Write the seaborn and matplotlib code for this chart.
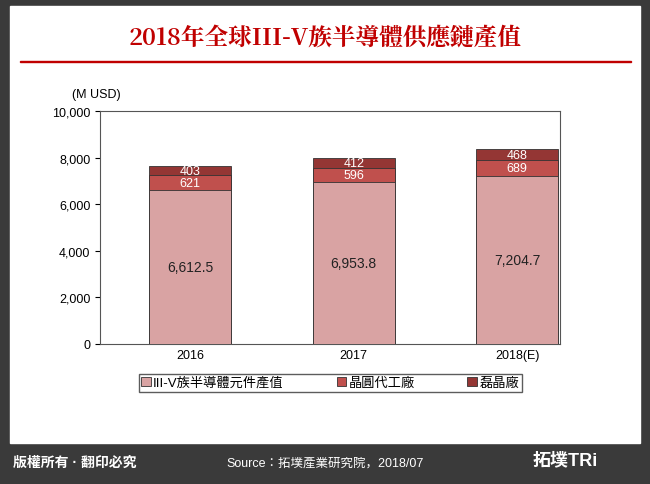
import matplotlib
matplotlib.use("Agg")
import matplotlib.pyplot as plt
from matplotlib import font_manager
import seaborn as sns
import pandas as pd
from matplotlib.patches import Rectangle

years = ["2016", "2017", "2018(E)"]
device = [6612.5, 6953.8, 7204.7]
foundry = [621, 596, 689]
epi = [403, 412, 468]
series_names = ["III-V族半導體元件產值", "晶圓代工廠", "磊晶廠"]
colors = ["#D9A3A3", "#C0504D", "#943634"]

avail = {f.name for f in font_manager.fontManager.ttflist}
cjk = [n for n in ["Noto Sans CJK TC", "Noto Sans CJK JP", "Noto Sans CJK SC"] if n in avail]
serif = [n for n in ["Noto Serif CJK TC", "Noto Serif CJK JP"] if n in avail]
plt.rcParams["font.family"] = ["Liberation Sans"] + cjk + ["DejaVu Sans"]
fig = plt.figure(figsize=(6.5, 4.85), dpi=100)
fig.patches.append(Rectangle((0, 0), 1, 1, transform=fig.transFigure, color="#3a3a3a", zorder=-10))
fig.patches.append(Rectangle((0.015, 0.085), 0.97, 0.9, transform=fig.transFigure, color="white", zorder=-9))
fig.patches.append(Rectangle((0.03, 0.87), 0.94, 0.003, transform=fig.transFigure, color="#C00000", zorder=-8))
fig.text(0.5, 0.92, "2018年全球III-V族半導體供應鏈產值", ha="center", va="center",
         fontsize=17, fontweight="bold", color="#C00000", family=serif + cjk + ["DejaVu Serif"])
fig.text(0.02, 0.045, "版權所有 · 翻印必究", color="white", fontsize=10, fontweight="bold", va="center")
fig.text(0.5, 0.045, "Source：拓墣產業研究院，2018/07", color="white", fontsize=9, ha="center", va="center")
fig.text(0.87, 0.05, "拓墣TRi", color="white", fontsize=13, fontweight="bold", ha="center", va="center")

ax = fig.add_axes([0.154, 0.289, 0.708, 0.48])
df = pd.DataFrame({"year": years, "a": device, "b": foundry, "c": epi})
bottoms = [0] * 3
for k, (col, name, c) in enumerate(zip(["a", "b", "c"], series_names, colors)):
    d = df.copy()
    d["top"] = [b + v for b, v in zip(bottoms, df[col])]
    sns.barplot(data=d, x="year", y="top", color=c, saturation=1, width=0.5, ax=ax, label=name,
                edgecolor="#333333", linewidth=0.6, zorder=3 - k)
    for i, (b, v) in enumerate(zip(bottoms, df[col])):
        txt = f"{v:,.1f}" if col == "a" else f"{v:,.0f}"
        ax.text(i, b + v / 2, txt, ha="center", va="center",
                fontsize=10 if col == "a" else 9, color="#222222" if col == "a" else "white", zorder=10)
    bottoms = d["top"].tolist()

ax.set_ylim(0, 10000)
ax.set_xlim(-0.552, 2.264)
ax.set_yticks(range(0, 10001, 2000))
ax.set_yticklabels([f"{v:,}" for v in range(0, 10001, 2000)], fontsize=9)
ax.tick_params(axis="x", labelsize=9, length=0)
ax.set_xlabel(""); ax.set_ylabel("")
ax.text(-0.06, 1.06, "(M USD)", transform=ax.transAxes, fontsize=9, ha="left")
for s in ax.spines.values():
    s.set_color("#555555"); s.set_linewidth(0.8)
ax.legend(loc="upper center", bbox_to_anchor=(0.5, -0.1), ncol=3, fontsize=9.5,
          frameon=True, edgecolor="#333333", fancybox=False, handlelength=0.7,
          handleheight=0.7, handletextpad=0.2, columnspacing=4, borderpad=0.2)
fig.savefig("out.png", dpi=100)
